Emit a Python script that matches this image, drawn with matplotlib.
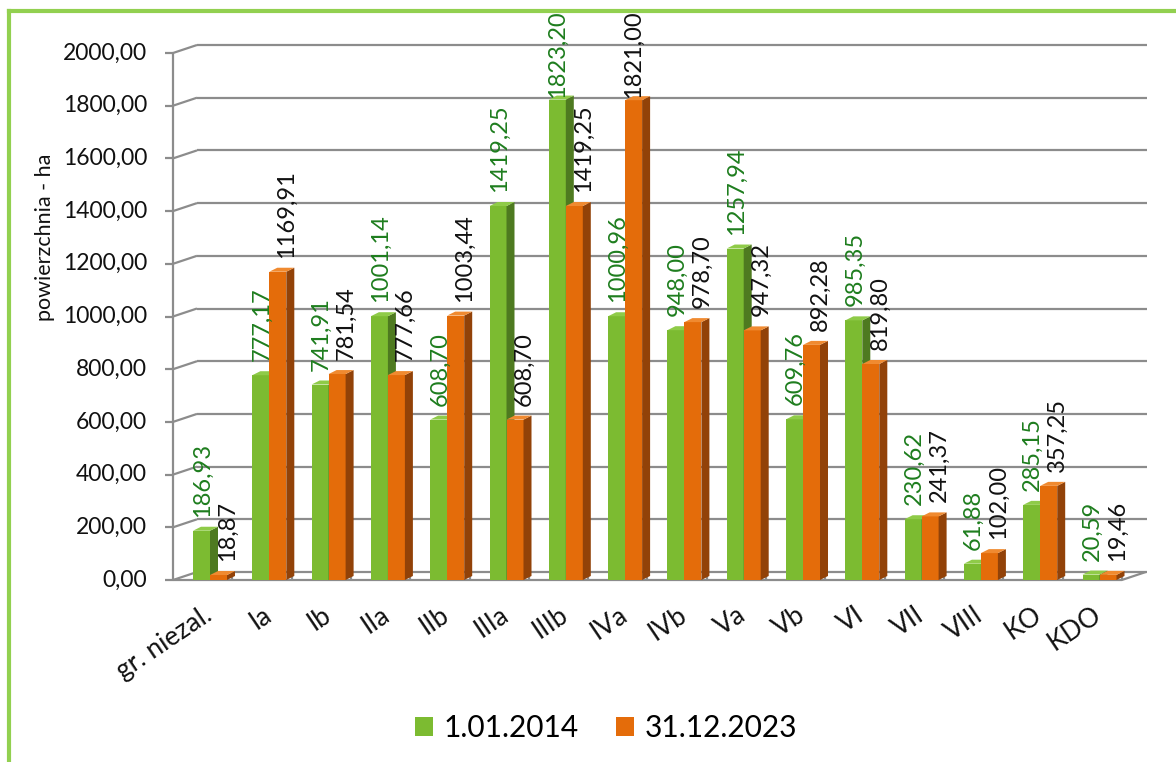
import matplotlib
matplotlib.use("Agg")
import matplotlib.pyplot as plt
from matplotlib.patches import Polygon, Patch
from matplotlib.lines import Line2D
from matplotlib.transforms import offset_copy

plt.rcParams['font.family'] = ['Lato', 'DejaVu Sans']

# powierzchnia wg klas bonitacyjnych
categories = ['gr. niezal.', 'Ia', 'Ib', 'IIa', 'IIb', 'IIIa', 'IIIb', 'IVa',
              'IVb', 'Va', 'Vb', 'VI', 'VII', 'VIII', 'KO', 'KDO']
area_2014 = [186.93, 777.17, 741.91, 1001.14, 608.70, 1419.25, 1823.20, 1000.96,
             948.00, 1257.94, 609.76, 985.35, 230.62, 61.88, 285.15, 20.59]
area_2023 = [18.87, 1169.91, 781.54, 777.66, 1003.44, 608.70, 1419.25, 1821.00,
             978.70, 947.32, 892.28, 819.80, 241.37, 102.00, 357.25, 19.46]
series_names = ['1.01.2014', '31.12.2023']
y_ticks = list(range(0, 2001, 200))

W, H = 1176, 762
fig = plt.figure(figsize=(W / 100, H / 100), dpi=100)

# skala: px na jednostke
px_cat = 59.3
px_val = (580 - 53) / 2000
ax = fig.add_axes([173 / W, (H - 580) / H, 974 / W, 535 / H])
ax.set_xlim(0, 974 / px_cat)
ax.set_ylim(0, 535 / px_val)
ax.axis('off')

def ux(p):
    return p / px_cat

def uy(p):
    return p / px_val

wall_dx, wall_dy = ux(24), uy(8)
n = len(categories)
x_end = ax.get_xlim()[1]
grid_kw = dict(color='#8c8c8c', lw=1.6, solid_capstyle='butt', zorder=1, clip_on=False)

# sciana tylna, siatka i os
for v in y_ticks:
    ax.plot([wall_dx, x_end], [v + wall_dy, v + wall_dy], **grid_kw)
    ax.plot([0, wall_dx], [v, v + wall_dy], **grid_kw)
    ax.plot([-ux(8), 0], [v, v], **grid_kw)
    ax.text(-ux(26), v, f"{v:.2f}".replace('.', ','), ha='right', va='center',
            fontsize=16.5, color='#111111')
ax.plot([0, 0], [0, y_ticks[-1]], **grid_kw)
ax.plot([0, n, n + wall_dx], [0, 0, wall_dy], **grid_kw)
for k in range(1, n + 1):
    ax.plot([k, k], [0, wall_dy], **grid_kw)

ax.text(-ux(128), uy(580 - 237), 'powierzchnia - ha', rotation=90,
        ha='center', va='center', fontsize=15.5, color='#111111')

# slupki 3D
bar_dx, bar_dy = ux(8), uy(4)
bar_w = ux(17)
pad = ux(20)

def bar3d(x, h, front, side, top):
    ax.add_patch(Polygon([(x, 0), (x + bar_w, 0), (x + bar_w, h), (x, h)],
                         closed=True, fc=front, ec='none', zorder=3))
    ax.add_patch(Polygon([(x + bar_w, 0), (x + bar_w + bar_dx, bar_dy),
                          (x + bar_w + bar_dx, h + bar_dy), (x + bar_w, h)],
                         closed=True, fc=side, ec='none', zorder=3))
    ax.add_patch(Polygon([(x, h), (x + bar_w, h), (x + bar_w + bar_dx, h + bar_dy),
                          (x + bar_dx, h + bar_dy)],
                         closed=True, fc=top, ec='none', zorder=3))

green = ('#7cbb31', '#4e7a20', '#8fcb48')
orange = ('#e46c0a', '#924208', '#f08a30')

def value_label(x, v, dx, color):
    # odstep nad slupkiem; przy najwyzszych slupkach etykieta dosuwa sie do slupka
    top_px = 580 - v * px_val
    gap = max(-3, min(14, top_px - 18 - 80))
    if gap < 14:
        dx = 0
    tr = offset_copy(ax.transData, fig=fig, x=dx, y=gap, units='dots')
    ax.text(x, v, f"{v:.2f}".replace('.', ','), rotation=90, ha='center',
            va='bottom', fontsize=17, color=color, transform=tr, zorder=5)

for i in range(n):
    x0 = i + pad
    bar3d(x0, area_2014[i], *green)
    bar3d(x0 + bar_w, area_2023[i], *orange)
    value_label(x0 + bar_w / 2, area_2014[i], 1, '#1e7d1e')
    value_label(x0 + 1.5 * bar_w, area_2023[i], 9, '#111111')

# etykiety kategorii
cat_tr = offset_copy(ax.transData, fig=fig, x=0, y=-22, units='dots')
for i, name in enumerate(categories):
    ax.text(i + 0.5, 0, name, rotation=34, rotation_mode='anchor', ha='right',
            va='top', fontsize=19, color='#111111', transform=cat_tr)

# legenda
handles = [Patch(fc=green[0], ec='none'), Patch(fc=orange[0], ec='none')]
fig.legend(handles, series_names, loc='center', bbox_to_anchor=(606 / W, 1 - 728 / H),
           ncol=2, frameon=False, fontsize=21.5, handlelength=0.62, handleheight=0.62,
           handletextpad=0.35, columnspacing=1.25)

# ramka
bx, by = 9 / W, 1 - 11 / H
fig.add_artist(Line2D([bx, bx], [0, by], transform=fig.transFigure, color='#92d050', lw=3))
fig.add_artist(Line2D([bx, 1], [by, by], transform=fig.transFigure, color='#92d050', lw=3))

fig.savefig('out.png', dpi=100, facecolor='white')
